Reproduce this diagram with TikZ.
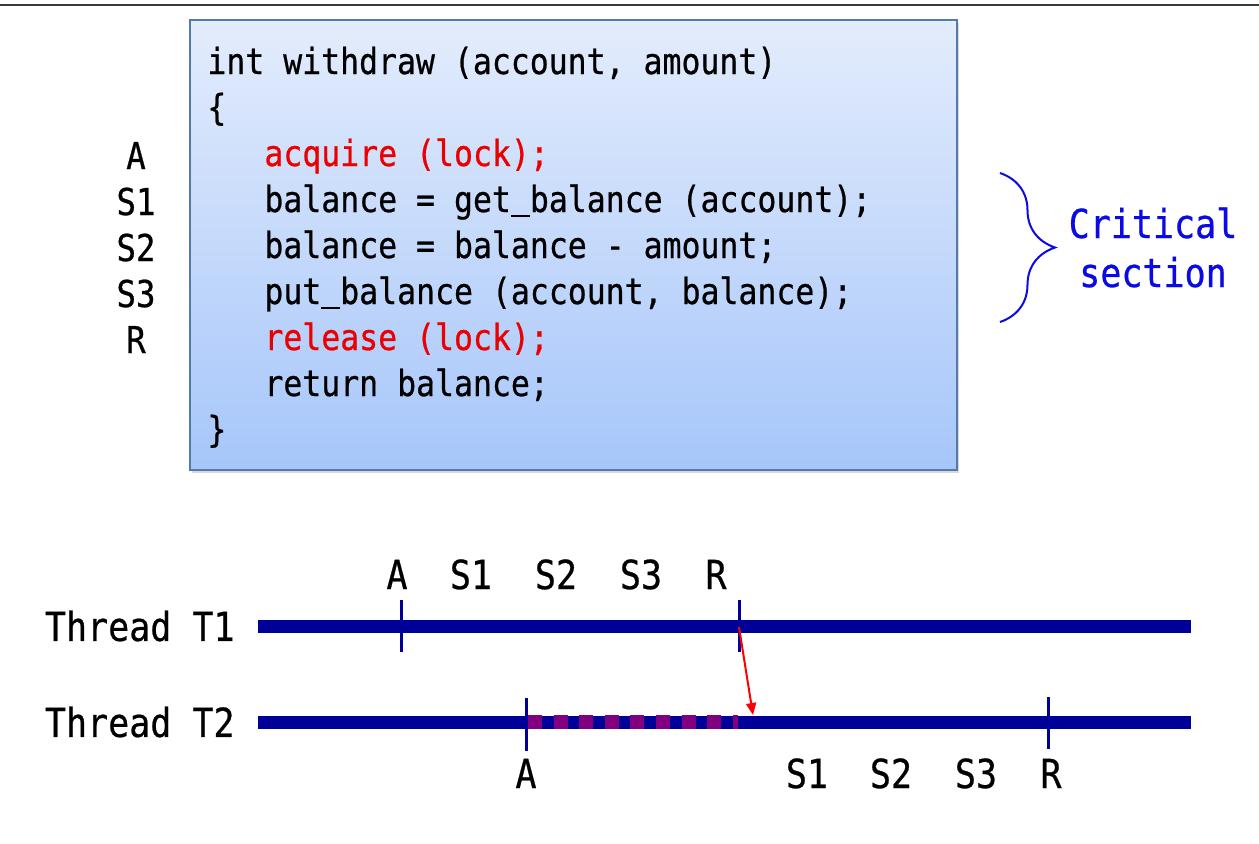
\documentclass[tikz,border=0pt]{standalone}
\usepackage{fontspec}
\setmonofont[FakeStretch=0.875, FakeBold=0.6]{DejaVu Sans Mono}
\usetikzlibrary{decorations.pathreplacing,shadows,arrows.meta}

\definecolor{navy}{RGB}{0,0,153}
\definecolor{waitpurple}{RGB}{128,0,128}
\definecolor{lockred}{RGB}{235,0,0}
\definecolor{critblue}{RGB}{10,10,230}
\definecolor{boxtop}{RGB}{227,236,252}
\definecolor{boxbottom}{RGB}{166,198,250}
\definecolor{boxedge}{RGB}{84,122,170}
\definecolor{rulegray}{RGB}{58,58,70}

% underscore as a rule, one character wide
\newcommand{\us}{\rule[-2.6pt]{\fontcharwd\font`a}{1.3pt}}

\tikzset{
    codeline/.style={anchor=base west, inner sep=0pt, font=\ttfamily\fontsize{18}{20}\selectfont},
    lockline/.style={codeline, text=lockred},
    steplabel/.style={anchor=base, inner sep=0pt, font=\ttfamily\fontsize{18.5}{20}\selectfont},
    timelabel/.style={anchor=base, inner sep=0pt, font=\ttfamily\fontsize{20}{22}\selectfont},
    thread/.style={navy, line width=6.5pt},
    tick/.style={navy, line width=1.5pt},
}

\begin{document}
\begin{tikzpicture}[x=0.5pt, y=-0.5pt]
    \useasboundingbox (0,0) rectangle (1259,843);

    % Rule on top
    \draw[rulegray, line width=1pt] (0,5) -- (1259,5);

    % Code box
    \node[draw=boxedge, line width=1pt, top color=boxtop, bottom color=boxbottom,
          minimum width=383.5pt, minimum height=225pt, inner sep=0pt,
          drop shadow={shadow xshift=1pt, shadow yshift=-1.5pt, opacity=0.3}]
        (codebox) at (573.5,245) {};

    \node[codeline] (l1) at (207,74)  {int withdraw (account, amount)};
    \node[codeline] (l2) at (207,120) {\{};
    \node[lockline] (l3) at (264,166) {acquire (lock);};
    \node[codeline] (l4) at (264,212) {balance = get\us balance (account);};
    \node[codeline] (l5) at (264,258) {balance = balance - amount;};
    \node[codeline] (l6) at (264,304) {put\us balance (account, balance);};
    \node[lockline] (l7) at (264,350) {release (lock);};
    \node[codeline] (l8) at (264,396) {return balance;};
    \node[codeline] (l9) at (207,442) {\}};

    % Step names on the left
    \node[steplabel] (sA)  at (136,169) {A};
    \node[steplabel] (sS1) at (136,215) {S1};
    \node[steplabel] (sS2) at (136,261) {S2};
    \node[steplabel] (sS3) at (136,307) {S3};
    \node[steplabel] (sR)  at (136,353) {R};

    % Critical section brace
    \coordinate (bracetop) at (1000,173);
    \coordinate (bracebot) at (1000,322);
    \draw[critblue, line width=1pt, decorate, decoration={brace, amplitude=27.5pt}]
        (bracetop) -- (bracebot);
    \node[timelabel, text=critblue] (crit1) at (1153,238) {Critical};
    \node[timelabel, text=critblue] (crit2) at (1153,287) {section};

    % Thread T1
    \node[timelabel, anchor=east] (t1name) at (235,626) {Thread T1};
    \coordinate (t1start) at (258,626);
    \coordinate (t1end) at (1191,626);
    \draw[thread] (t1start) -- (t1end);
    \draw[tick] (401,600) -- (401,652);
    \draw[tick] (739,600) -- (739,652);
    \node[timelabel] (t1A)  at (397,589) {A};
    \node[timelabel] (t1S1) at (471,589) {S1};
    \node[timelabel] (t1S2) at (556,589) {S2};
    \node[timelabel] (t1S3) at (641,589) {S3};
    \node[timelabel] (t1R)  at (716,589) {R};

    % Thread T2
    \node[timelabel, anchor=east] (t2name) at (235,722) {Thread T2};
    \coordinate (t2start) at (258,722);
    \coordinate (t2end) at (1191,722);
    \draw[thread] (t2start) -- (t2end);
    \draw[waitpurple, line width=7pt, dash pattern=on 7pt off 5.8pt] (528,722) -- (738,722);
    \draw[tick] (526,698) -- (526,751);
    \draw[tick] (1048,697) -- (1048,749);
    \node[timelabel] (t2A)  at (526,788) {A};
    \node[timelabel] (t2S1) at (807,788) {S1};
    \node[timelabel] (t2S2) at (891,788) {S2};
    \node[timelabel] (t2S3) at (976,788) {S3};
    \node[timelabel] (t2R)  at (1051,788) {R};

    % Release wakes T2
    \coordinate (release) at (739,627);
    \coordinate (wakeup) at (753,715);
    \draw[red, line width=1pt, -{Triangle[length=6pt, width=5pt]}] (release) -- (wakeup);
\end{tikzpicture}
\end{document}
